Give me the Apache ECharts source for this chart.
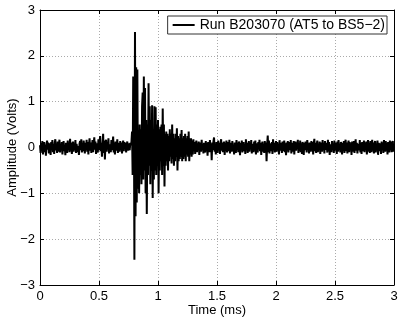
<!DOCTYPE html>
<html>
<head>
<meta charset="utf-8">
<script src="https://cdn.jsdelivr.net/npm/echarts@6/dist/echarts.min.js"></script>
<style>
  html, body { margin: 0; padding: 0; background: #fff; }
  #chart { width: 401px; height: 320px; }
</style>
</head>
<body>
<div id="chart"></div>
<script>
// sample step in ms
const dt = 0.005;

// 0 .. 0.775 ms, quiet before the arrival
const preOnset = [
  0.05,-0.12,0.10,-0.08,0.14,-0.15,0.02,0.12,-0.10,0.06,-0.18,0.08,0.15,-0.05,0.11,-0.13,0.04,0.09,-0.16,0.12,
  -0.02,0.16,-0.10,0.07,-0.14,0.10,0.18,-0.06,0.03,-0.12,0.13,-0.09,0.05,0.17,-0.11,0.08,-0.04,0.12,-0.15,0.06,
  0.14,-0.08,0.02,-0.17,0.10,0.05,-0.12,0.15,-0.03,0.09,-0.10,0.19,-0.07,0.11,-0.14,0.04,0.13,-0.09,0.07,-0.05,
  0.16,-0.12,0.08,0.12,-0.10,0.03,-0.16,0.09,0.14,-0.06,0.18,-0.11,0.05,-0.08,0.15,0.02,-0.13,0.10,-0.04,0.17,
  -0.09,0.12,-0.15,0.06,0.20,-0.07,0.11,-0.12,0.04,0.16,-0.10,0.08,0.22,-0.05,0.13,-0.14,0.09,0.02,-0.11,0.18,
  -0.06,0.14,0.25,-0.08,0.10,-0.20,0.06,0.30,-0.12,0.15,-0.26,0.08,0.17,-0.09,0.12,-0.04,0.20,-0.13,0.07,0.11,
  -0.10,0.16,-0.06,0.09,0.24,-0.11,0.05,-0.15,0.13,0.08,-0.07,0.18,-0.12,0.10,0.03,-0.09,0.14,-0.05,0.11,-0.13,
  0.07,0.15,-0.08,0.12,-0.03,0.10,-0.11,0.06,0.13,-0.07,0.09,0.02,-0.06,0.10,0.05,0.12
];

// 0.78 .. 1.30 ms, the burst
const burst = [
  0.35,-0.60,1.55,1.50,-2.45,2.52,-1.50,1.75,-1.20,1.70,
  -0.90,0.30,-1.00,0.50,-0.60,0.40,-0.80,0.90,1.20,-0.70,
  1.55,-0.50,1.30,-1.00,0.60,-1.45,0.50,-0.60,1.40,-0.40,
  0.90,-0.80,0.60,-0.50,0.92,-1.10,0.40,-0.70,0.90,-0.50,
  0.88,-0.60,0.50,-0.40,0.60,-1.00,0.40,-0.50,0.45,-0.30,
  0.50,-0.60,0.85,-0.40,0.50,-0.85,0.30,-0.40,0.35,-0.30,
  0.30,-0.50,0.25,-0.30,0.40,-0.20,0.30,-0.35,0.50,-0.25,
  0.30,-0.40,0.20,-0.30,0.30,-0.20,0.42,-0.50,0.25,-0.30,
  0.20,-0.25,0.30,-0.20,0.38,-0.30,0.20,-0.25,0.25,-0.20,
  0.30,-0.30,0.20,-0.15,0.25,-0.20,0.35,-0.30,0.20,-0.15,
  0.20,-0.20,0.15,-0.15,0.18
];

// 1.305 .. 3.0 ms, back to noise
const tail = [
  -0.08,0.12,-0.14,0.06,0.15,-0.10,0.09,-0.05,0.13,-0.16,0.04,0.11,-0.09,0.17,-0.06,0.08,-0.13,0.10,0.03,-0.11,
  0.14,-0.07,0.09,-0.18,0.12,0.05,-0.10,0.16,-0.04,0.08,-0.28,0.11,-0.06,0.14,0.22,-0.09,0.07,-0.15,0.12,0.02,
  -0.12,0.15,-0.05,0.10,-0.14,0.08,0.18,-0.07,0.11,-0.10,0.04,0.13,-0.16,0.09,-0.03,0.15,-0.11,0.06,0.12,-0.08,
  0.17,-0.13,0.05,0.10,-0.09,0.14,-0.06,0.03,-0.15,0.11,0.08,-0.12,0.16,-0.04,0.09,-0.10,0.13,0.06,-0.17,0.10,
  -0.05,0.15,-0.11,0.07,0.12,-0.08,0.04,-0.14,0.18,-0.06,0.10,-0.12,0.05,0.14,-0.09,0.11,-0.03,0.16,-0.13,0.08,
  0.02,-0.10,0.13,-0.07,0.15,-0.15,0.09,0.06,-0.11,0.12,-0.04,0.17,-0.08,0.10,-0.16,0.05,0.13,-0.09,0.08,-0.12,
  0.14,-0.05,0.11,-0.30,0.07,0.26,-0.10,0.15,-0.13,0.09,0.04,-0.08,0.12,-0.14,0.18,-0.06,0.10,-0.11,0.05,0.14,
  -0.09,0.12,-0.04,0.08,-0.15,0.16,-0.07,0.10,0.03,-0.12,0.13,-0.08,0.06,0.15,-0.10,0.09,-0.17,0.11,-0.05,0.14,
  -0.11,0.07,0.12,-0.06,0.16,-0.13,0.04,0.10,-0.09,0.14,-0.15,0.08,0.13,-0.07,0.11,-0.03,0.17,-0.12,0.06,-0.08,
  0.15,-0.10,0.09,-0.14,0.12,0.05,-0.16,0.10,-0.06,0.13,0.08,-0.11,0.16,-0.04,0.09,-0.13,0.11,0.02,-0.09,0.14,
  -0.07,0.12,-0.15,0.08,0.19,-0.08,0.10,-0.12,0.05,0.15,-0.10,0.07,-0.04,0.13,-0.14,0.11,0.06,-0.09,0.16,-0.06,
  0.09,-0.13,0.14,-0.05,0.10,0.04,-0.11,0.17,-0.08,0.12,-0.16,0.07,0.11,-0.10,0.14,-0.03,0.08,-0.12,0.15,-0.07,
  0.10,0.05,-0.14,0.13,-0.09,0.16,-0.06,0.08,-0.11,0.12,0.03,-0.15,0.10,-0.05,0.14,-0.12,0.09,0.17,-0.08,0.11,
  -0.13,0.06,0.15,-0.10,0.12,-0.04,0.09,-0.16,0.13,0.07,-0.09,0.14,-0.12,0.05,0.18,-0.07,0.10,-0.13,0.08,0.12,
  -0.06,0.16,-0.11,0.09,-0.14,0.12,0.04,-0.08,0.15,-0.10,0.11,-0.05,0.13,-0.15,0.07,0.16,-0.09,0.10,-0.12,0.14,
  0.03,-0.10,0.17,-0.07,0.11,-0.13,0.08,0.14,-0.11,0.06,-0.04,0.15,-0.16,0.10,0.12,-0.08,0.09,-0.14,0.13,-0.05,
  0.11,-0.12,0.16,0.06,-0.09,0.14,-0.07,0.10,-0.15,0.12,0.05,-0.11,0.15,-0.06,0.13,-0.10,0.08,0.14,-0.09,0.07
];

const seriesName = 'Run B203070 (AT5 to BS5\u22122)';
const xLabel = 'Time (ms)';
const yLabel = 'Amplitude (Volts)';

const samples = preOnset.concat(burst, tail);
const points = samples.map((v, i) => [+(i * dt).toFixed(4), v]);

const font = 'Liberation Sans, Arial, Helvetica, sans-serif';
const minusFmt = v => String(v).replace('-', '\u2212');

function frameAxis(pos, min, max, interval) {
  return {
    type: 'value', position: pos, min, max, interval,
    axisLine: { show: true, onZero: false, lineStyle: { color: '#000', width: 1 } },
    axisTick: { show: true, inside: true, length: 4, lineStyle: { color: '#000' } },
    axisLabel: { show: false },
    splitLine: { show: false }
  };
}

const chart = echarts.init(document.getElementById('chart'));
chart.setOption({
  animation: false,
  backgroundColor: '#fff',
  grid: { left: 40, right: 7, top: 10, bottom: 35, containLabel: false, outerBoundsMode: 'none' },
  legend: {
    data: [{ name: seriesName, icon: 'rect' }],
    right: 14, top: 16,
    backgroundColor: '#fff',
    borderColor: '#333', borderWidth: 1, borderRadius: 0,
    padding: [2, 2, 2, 5],
    itemWidth: 22, itemHeight: 2, itemGap: 4,
    textStyle: { fontFamily: font, fontSize: 14, color: '#000' }
  },
  xAxis: [{
    type: 'value', min: 0, max: 3, interval: 0.5,
    name: xLabel, nameLocation: 'middle', nameGap: 19, nameMoveOverlap: false,
    nameTextStyle: { fontFamily: font, fontSize: 13, color: '#000' },
    axisLine: { show: true, onZero: false, lineStyle: { color: '#000', width: 1 } },
    axisTick: { inside: true, length: 4, lineStyle: { color: '#000' } },
    axisLabel: { fontFamily: font, fontSize: 13, color: '#000', margin: 5 },
    splitLine: { show: true, lineStyle: { type: [1, 2], color: '#aaa' } }
  }, frameAxis('top', 0, 3, 0.5)],
  yAxis: [{
    type: 'value', min: -3, max: 3, interval: 1,
    name: yLabel, nameLocation: 'middle', nameGap: 21, nameMoveOverlap: false,
    nameTextStyle: { fontFamily: font, fontSize: 13, color: '#000' },
    axisLine: { show: true, onZero: false, lineStyle: { color: '#000', width: 1 } },
    axisTick: { inside: true, length: 4, lineStyle: { color: '#000' } },
    axisLabel: { fontFamily: font, fontSize: 13, color: '#000', margin: 5, formatter: minusFmt },
    splitLine: { show: true, lineStyle: { type: [1, 2], color: '#aaa' } }
  }, frameAxis('right', -3, 3, 1)],
  series: [{
    name: seriesName,
    type: 'line',
    data: points,
    showSymbol: false,
    symbol: 'none',
    lineStyle: { color: '#000', width: 2 },
    itemStyle: { color: '#000' }
  }]
});
</script>
</body>
</html>
